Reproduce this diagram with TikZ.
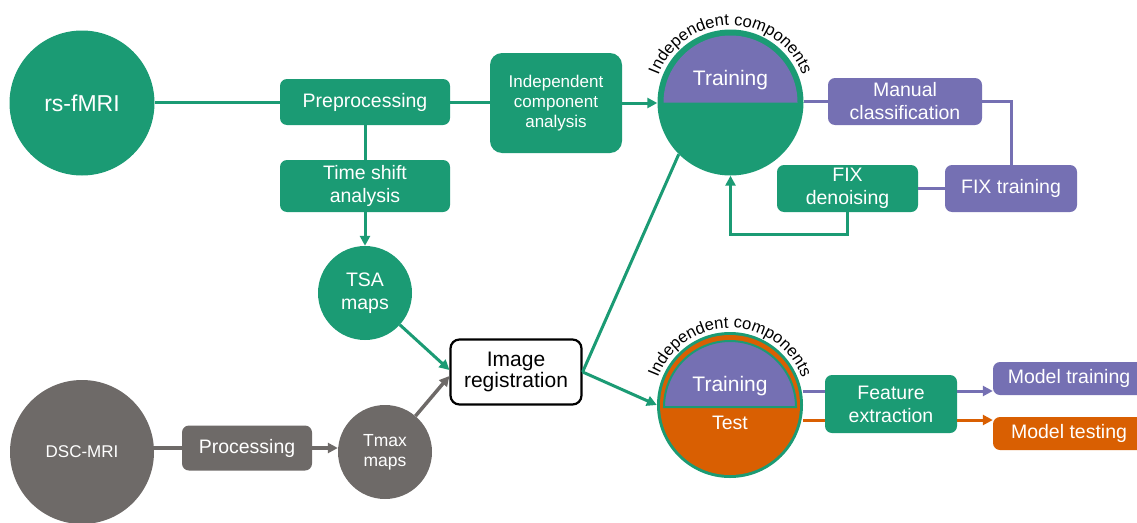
\documentclass[tikz,border=0pt]{standalone}
\usepackage{fontspec}
\setmainfont{Liberation Sans}
\usetikzlibrary{arrows.meta,decorations.text,calc}
\definecolor{dgreen}{HTML}{1B9B74}
\definecolor{dpurple}{HTML}{7570B3}
\definecolor{dorange}{HTML}{D95F02}
\definecolor{dgray}{HTML}{6E6A68}
\newcommand\fsz[2]{\fontsize{#1}{#2}\selectfont}
\tikzset{
  gbox/.style={rectangle, rounded corners=7pt, fill=dgreen, text=white, align=center, inner sep=0pt, font=\fsz{19.5}{23}},
  pbox/.style={gbox, fill=dpurple},
  obox/.style={gbox, fill=dorange},
  graybox/.style={gbox, fill=dgray},
  gcirc/.style={circle, fill=dgreen, text=white, align=center, inner sep=0pt},
  graycirc/.style={gcirc, fill=dgray},
  tip/.style={-{Triangle[length=10pt,width=10pt]}},
  gline/.style={draw=dgreen, line width=3pt},
  pline/.style={draw=dpurple, line width=3pt},
  oline/.style={draw=dorange, line width=3pt},
  grayline/.style={draw=dgray, line width=3.5pt},
  arctext/.style={decorate, decoration={text along path, text align=center,
     text={|\fsz{16.5}{16.5}|Independent components}}},
}
\begin{document}
\begin{tikzpicture}[x=1pt,y=-1pt]
\useasboundingbox (0,0) rectangle (1137,522);

% left column
\node[gcirc, minimum size=145pt, font=\fsz{23}{26}] (rs) at (82,103) {rs-fMRI};
\node[gbox, minimum width=170pt, minimum height=46pt] (pre) at (365,102) {Preprocessing};
\node[gbox, rounded corners=12pt, minimum width=132pt, minimum height=100pt, font=\fsz{17}{20}] (ica) at (556,103) {Independent\\component\\analysis};
\node[gbox, minimum width=170pt, minimum height=52pt] (tsa) at (365,186) {Time shift\\analysis};
\node[gcirc, minimum size=94pt, font=\fsz{19.5}{23}] (tsam) at (365,293) {TSA\\maps};
\node[rectangle, rounded corners=9pt, draw=black, line width=2.2pt, fill=white, minimum width=131pt, minimum height=65pt, inner sep=0pt, align=center, font=\fsz{21}{21}] (reg) at (516,372) {Image\\registration};

\node[graycirc, minimum size=144pt, font=\fsz{17}{20}] (dsc) at (82,452) {DSC-MRI};
\node[graybox, minimum width=130pt, minimum height=45pt] (proc) at (247,448) {Processing};
\node[graycirc, minimum size=94pt, font=\fsz{17.5}{20}] (tmax) at (385,452) {Tmax\\maps};

% top circle
\node[circle, fill=dgreen, minimum size=146pt, inner sep=0pt] (c1) at (730.5,102.5) {};
\fill[dpurple] ([xshift=-67pt]c1.center) arc[start angle=180, end angle=0, radius=67pt] -- cycle;
\node[text=white, font=\fsz{21}{21}] (c1t) at (730.5,80) {Training};
\path[arctext] ([shift={(160:77pt)}]c1.center) arc[start angle=160, end angle=20, radius=77pt];

% bottom circle
\node[circle, fill=dgreen, minimum size=146pt, inner sep=0pt] (c2) at (730,405) {};
\fill[dorange] (c2.center) circle[radius=70pt];
\filldraw[fill=dpurple, draw=dgreen, line width=2pt] ([xshift=-66pt,yshift=-2pt]c2.center) arc[start angle=180, end angle=0, radius=66pt] -- cycle;
\node[text=white, font=\fsz{21}{21}] (c2t) at (730,386) {Training};
\node[text=white, font=\fsz{19.5}{21}] (c2s) at (730,423) {Test};
\path[arctext] ([shift={(160:77pt)}]c2.center) arc[start angle=160, end angle=20, radius=77pt];

% right side
\node[pbox, minimum width=154pt, minimum height=47pt] (man) at (905,101.5) {Manual\\classification};
\node[pbox, minimum width=132pt, minimum height=47pt] (fixt) at (1011,188.5) {FIX training};
\node[gbox, minimum width=141pt, minimum height=47pt] (fixd) at (847.5,188.5) {FIX\\denoising};
\node[gbox, minimum width=132pt, minimum height=58pt] (feat) at (891,404) {Feature\\extraction};
\node[pbox, minimum width=152pt, minimum height=33pt] (mtrain) at (1069,378.5) {Model training};
\node[obox, minimum width=152pt, minimum height=33pt] (mtest) at (1069,433.5) {Model testing};

% connectors
\draw[gline] (rs.east |- pre.west) -- (pre.west);
\draw[gline] (pre.east) -- (pre.east -| ica.west);
\draw[gline, tip] (ica.east) -- (ica.east -| c1.west);
\draw[gline] (pre.south) -- (tsa.north);
\draw[gline, tip] (tsa.south) -- (tsam.north);
\draw[gline, tip] (tsam) -- ([yshift=2pt]reg.west);
\draw[gline] (reg.east) -- (c1.225);
\draw[gline, tip] (reg.east) -- (c2.west);
\draw[grayline] (dsc.east |- proc.west) -- (proc.west);
\draw[grayline, tip] (proc.east) -- (proc.east -| tmax.west);
\draw[grayline, tip] (tmax) -- ([yshift=-4pt]reg.west);
\draw[pline] (c1.east |- man.west) -- (man.west);
\draw[pline] (man.east) -| (fixt.north);
\draw[pline] (fixt.west) -- (fixd.east);
\draw[gline, tip] (fixd.south) -- ++(0,22) -| (c1.south);
\draw[pline] ([yshift=13pt]feat.west) -- ([yshift=13pt]feat.west -| c2.east);
\draw[oline] ([yshift=-16pt]feat.west) -- ([yshift=-16pt]feat.west -| c2.east);
\draw[pline, tip] ([yshift=13pt]feat.east) -- ([yshift=13pt]feat.east -| mtrain.west);
\draw[oline, tip] ([yshift=-16pt]feat.east) -- ([yshift=-16pt]feat.east -| mtest.west);
\end{tikzpicture}
\end{document}
